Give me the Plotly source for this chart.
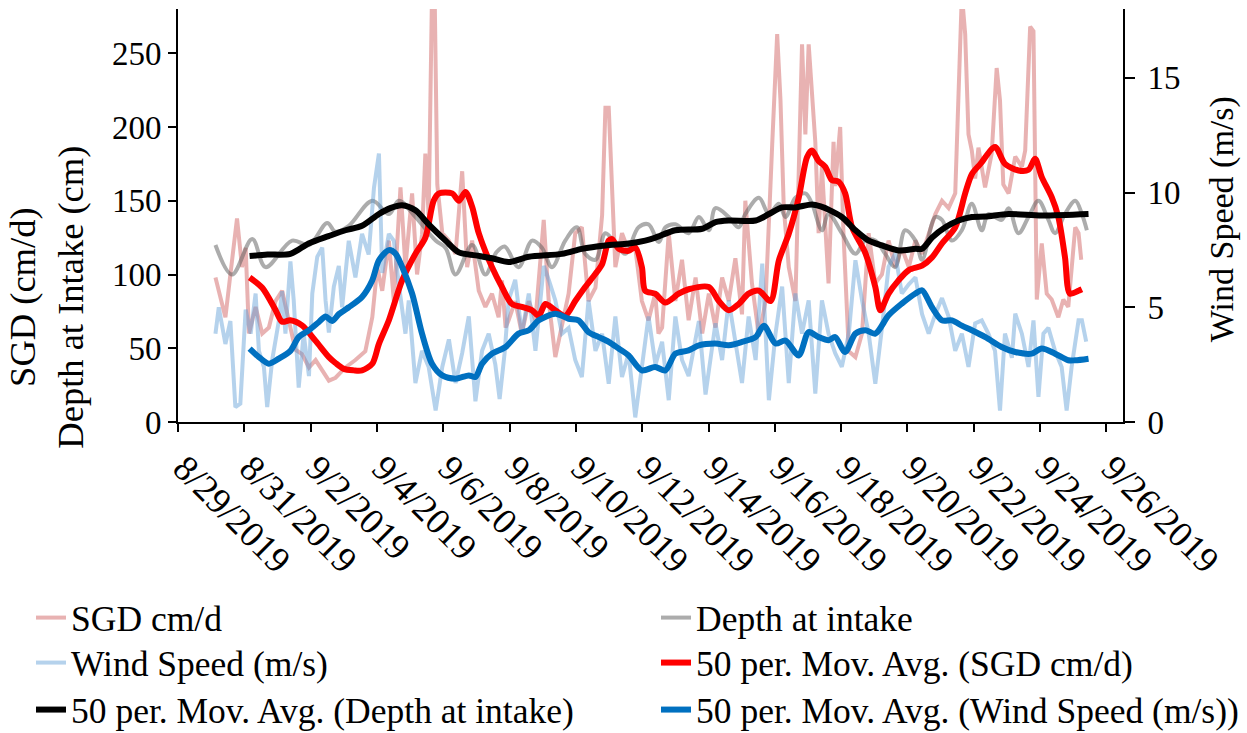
import pandas as pd
import plotly.graph_objects as go

BASE = pd.Timestamp("2019-08-29")

# ---- data (time = days since 8/29/2019 00:00) ----
sgd_t = [1.13, 1.23, 1.43, 1.58, 1.78, 1.93, 2.04, 2.14, 2.34, 2.54, 2.74, 2.94, 3.14, 3.34, 3.54, 3.74, 3.95, 4.15, 4.35, 4.55,
         4.75, 5.05, 5.35, 5.65, 5.86, 6.01, 6.16, 6.36, 6.51, 6.71, 6.86, 7.06, 7.21, 7.36, 7.46, 7.56, 7.66, 7.74, 7.82, 7.97,
         8.17, 8.37, 8.57, 8.72, 8.87, 9.07, 9.27, 9.47, 9.67, 9.77, 9.88, 9.97, 10.17, 10.37, 10.58, 10.78, 11.03, 11.18, 11.38, 11.58,
         11.78, 11.98, 12.18, 12.38, 12.59, 12.79, 12.89, 12.99, 13.09, 13.19, 13.39, 13.59, 13.79, 13.99, 14.19, 14.39, 14.49, 14.6, 14.8, 15.0,
         15.2, 15.4, 15.61, 15.81, 16.01, 16.21, 16.41, 16.61, 16.81, 17.01, 17.11, 17.31, 17.52, 17.72, 17.92, 18.07, 18.17, 18.27, 18.42, 18.62,
         18.82, 18.92, 19.02, 19.12, 19.22, 19.32, 19.42, 19.62, 19.77, 19.82, 19.97, 20.07, 20.23, 20.43, 20.63, 20.83, 21.03, 21.23, 21.43, 21.63,
         21.83, 22.04, 22.24, 22.44, 22.64, 22.84, 23.04, 23.24, 23.44, 23.64, 23.74, 23.84, 23.94, 24.04, 24.14, 24.34, 24.54, 24.69, 24.79, 24.89,
         25.05, 25.25, 25.45, 25.55, 25.7, 25.8, 25.9, 26.05, 26.2, 26.35, 26.55, 26.7, 26.85, 27.06, 27.16, 27.24]
sgd = [98, 89, 71, 100, 138, 105, 118, 60, 78, 60, 64, 82, 89, 69, 49, 46, 37, 42, 35, 28,
       30, 37, 42, 48, 71, 105, 89, 123, 82, 159, 105, 155, 100, 127, 182, 140, 290, 290, 161, 128,
       123, 114, 170, 105, 123, 89, 78, 87, 71, 96, 64, 69, 82, 60, 82, 69, 137, 82, 44, 64,
       87, 128, 132, 82, 91, 140, 213, 213, 150, 105, 128, 116, 118, 82, 69, 87, 60, 64, 128, 82,
       110, 69, 98, 60, 87, 64, 98, 82, 111, 73, 150, 94, 58, 82, 188, 263, 218, 145, 105, 82,
       256, 195, 256, 218, 190, 128, 173, 94, 190, 160, 200, 128, 48, 44, 60, 128, 94, 100, 123, 105,
       118, 105, 123, 114, 128, 141, 150, 145, 155, 290, 263, 195, 184, 165, 186, 159, 182, 240, 218, 161,
       155, 180, 173, 184, 268, 265, 83, 121, 87, 83, 71, 83, 78, 132, 128, 110]

depth_t = [1.13, 1.63, 2.24, 2.64, 3.44, 3.95, 4.50, 4.75, 5.15, 5.86, 6.36, 6.66, 7.16, 7.77, 8.07, 8.37, 8.87, 9.27, 9.6, 9.85,
           10.27, 10.68, 10.98, 11.28, 11.68, 12.03, 12.28, 12.59, 12.89, 13.19, 13.49, 13.89, 14.19, 14.5, 14.7, 15.0, 15.4, 15.71, 16.01, 16.21,
           16.61, 16.91, 17.11, 17.52, 17.82, 18.12, 18.32, 18.62, 18.92, 19.12, 19.42, 19.62, 20.02, 20.43, 20.73, 21.03, 21.33, 21.63, 21.93, 22.24,
           22.44, 22.84, 23.04, 23.34, 23.64, 23.94, 24.24, 24.44, 24.84, 25.05, 25.35, 25.65, 25.95, 26.25, 26.45, 26.75, 27.06, 27.26, 27.41]
depth = [120, 100, 124, 105, 123, 120, 135, 129, 133, 150, 141, 150, 139, 123, 118, 100, 120, 100, 115, 119,
         105, 123, 118, 105, 123, 132, 114, 110, 128, 121, 114, 132, 134, 122, 132, 134, 128, 139, 130, 145,
         139, 132, 141, 152, 141, 148, 139, 152, 155, 148, 130, 141, 128, 114, 123, 123, 114, 105, 130, 123,
         110, 139, 137, 123, 130, 148, 130, 141, 137, 145, 128, 139, 150, 137, 128, 141, 150, 141, 130]

wind_t = [1.13, 1.23, 1.43, 1.58, 1.73, 1.88, 2.04, 2.19, 2.34, 2.44, 2.59, 2.69, 2.84, 3.04, 3.14, 3.24, 3.39, 3.49, 3.64, 3.79,
          3.95, 4.05, 4.2, 4.35, 4.45, 4.55, 4.7, 4.85, 4.95, 5.15, 5.35, 5.55, 5.75, 5.91, 6.06, 6.16, 6.36, 6.51, 6.66, 6.86,
          6.96, 7.16, 7.36, 7.56, 7.77, 7.97, 8.17, 8.37, 8.57, 8.77, 8.97, 9.17, 9.37, 9.57, 9.7, 9.85, 9.97, 10.17, 10.37, 10.58,
          10.78, 11.03, 11.18, 11.38, 11.58, 11.78, 11.98, 12.18, 12.38, 12.59, 12.79, 12.99, 13.19, 13.39, 13.59, 13.79, 13.99, 14.19, 14.4, 14.6,
          14.8, 15.0, 15.2, 15.4, 15.71, 15.91, 16.21, 16.41, 16.61, 16.81, 17.01, 17.21, 17.42, 17.62, 17.82, 18.02, 18.22, 18.42, 18.62, 18.82,
          19.02, 19.22, 19.42, 19.62, 19.82, 20.02, 20.23, 20.43, 20.63, 20.83, 21.03, 21.23, 21.43, 21.63, 21.83, 22.04, 22.24, 22.44, 22.64, 22.84,
          23.04, 23.24, 23.44, 23.64, 23.84, 24.04, 24.24, 24.44, 24.64, 24.79, 24.94, 25.15, 25.25, 25.45, 25.65, 25.8, 25.95, 26.1, 26.25, 26.45,
          26.65, 26.8, 26.95, 27.16, 27.26, 27.39]
wind = [3.85, 5.0, 3.4, 4.4, 0.65, 0.8, 4.9, 3.85, 5.6, 3.1, 2.4, 0.65, 2.7, 4.4, 5.7, 3.85, 7.0, 5.3, 1.5, 3.85,
        2.0, 5.6, 7.2, 7.6, 5.3, 3.9, 5.9, 6.8, 5.0, 7.9, 6.3, 8.2, 7.3, 10.2, 11.7, 6.5, 8.2, 7.9, 6.0, 3.85,
        5.3, 1.7, 3.1, 2.4, 0.5, 2.4, 3.6, 1.7, 3.0, 4.6, 0.9, 3.1, 3.85, 2.5, 1.0, 3.0, 5.3, 6.2, 3.85, 5.6,
        3.1, 6.8, 6.2, 5.3, 3.85, 4.1, 2.7, 1.96, 5.3, 3.1, 3.85, 1.67, 4.6, 1.96, 3.0, 0.2, 2.4, 4.6, 2.5, 3.5,
        0.95, 4.6, 2.7, 2.0, 4.4, 1.2, 4.3, 2.7, 5.3, 3.5, 1.7, 4.6, 2.7, 6.9, 0.95, 3.85, 5.9, 1.7, 5.6, 3.85,
        5.3, 1.24, 5.3, 3.85, 3.0, 2.4, 3.85, 7.05, 5.3, 3.85, 1.67, 4.1, 6.76, 7.34, 5.6, 6.0, 6.3, 4.7, 3.85, 4.7,
        5.4, 4.6, 3.1, 3.85, 2.4, 4.3, 4.43, 3.85, 3.1, 0.5, 3.85, 2.8, 4.72, 3.85, 2.4, 4.43, 1.1, 3.85, 4.1, 3.1,
        2.4, 0.5, 2.4, 4.43, 4.43, 3.5]

sgd_ma_t = [2.16, 2.54, 2.94, 3.14, 3.39, 3.74, 4.15, 4.55, 4.75, 5.0, 5.3, 5.55, 5.86, 6.06, 6.36, 6.76, 7.16, 7.46, 7.71, 7.87,
            8.27, 8.47, 8.67, 8.87, 9.07, 9.47, 9.77, 10.07, 10.37, 10.68, 10.88, 11.08, 11.38, 11.68, 11.98, 12.28, 12.59, 12.79, 12.99, 13.09,
            13.29, 13.59, 13.79, 13.99, 14.09, 14.39, 14.7, 15.1, 15.4, 16.01, 16.31, 16.61, 16.91, 17.21, 17.52, 17.87, 18.12, 18.42, 18.72, 18.97,
            19.12, 19.32, 19.52, 19.72, 19.92, 20.12, 20.33, 20.73, 21.03, 21.18, 21.43, 21.73, 22.04, 22.44, 22.74, 23.04, 23.44, 23.74, 23.94, 24.2,
            24.64, 24.94, 25.35, 25.65, 25.85, 26.05, 26.35, 26.55, 26.75, 26.9, 27.16, 27.26]
sgd_ma = [98, 91, 76, 68, 69, 65.5, 55, 44, 40, 36, 35, 35, 39.5, 53, 69, 96, 114, 125, 150, 155,
          155, 150, 156, 146, 128, 105, 91.5, 80, 78, 75.7, 72, 80, 75.7, 72, 82, 91.5, 100.5, 107, 123, 124,
          117.4, 116, 118.5, 105, 89, 87, 81, 87, 90, 91.5, 82, 75.7, 80, 87, 89, 82, 109.5, 127.6, 152, 179.5,
          184, 177, 173, 164, 163, 155, 132, 114.5, 91.5, 75.7, 87, 96, 103, 106, 111.6, 121, 132, 155, 168, 175,
          186.4, 175, 170.5, 171, 178.4, 166, 152.4, 139, 111.8, 87, 89, 90]

depth_ma_t = [2.16, 2.7, 3.39, 3.94, 4.54, 5.05, 5.55, 6.06, 6.4, 6.76, 7.16, 7.56, 8.07, 8.47, 8.97, 9.47, 9.97, 10.58, 11.58, 12.18,
              12.89, 13.59, 14.09, 14.4, 15.0, 15.81, 16.21, 16.61, 17.42, 17.82, 18.22, 18.62, 19.12, 19.4, 19.62, 20.02, 20.43, 20.83, 21.23, 21.73,
              22.24, 22.44, 22.74, 23.14, 23.54, 23.94, 24.35, 25.05, 26.05, 27.46]
depth_ma = [112.5, 113.5, 114, 121, 126, 130, 133, 141, 145, 147, 143.5, 134, 123, 115, 113, 111, 108.5, 112, 114, 117.4,
            119.7, 121, 123, 125, 130, 131, 135.5, 136.6, 136.6, 141, 145.5, 145.5, 147.5, 146, 144, 139, 130, 123, 119.7, 116.3,
            117.4, 117.4, 125, 132, 136.6, 139, 139.3, 141, 140, 141]

wind_ma_t = [2.16, 2.44, 2.74, 3.04, 3.39, 3.64, 3.95, 4.25, 4.45, 4.65, 4.85, 5.05, 5.15, 5.55, 5.86, 6.06, 6.36, 6.56, 6.76, 7.06,
             7.36, 7.66, 7.97, 8.37, 8.77, 8.97, 9.17, 9.47, 9.88, 10.27, 10.58, 10.88, 11.38, 11.78, 12.08, 12.38, 12.69, 12.99, 13.29, 13.59,
             13.99, 14.39, 14.7, 15.0, 15.4, 15.71, 16.21, 16.61, 17.01, 17.42, 17.67, 18.02, 18.32, 18.72, 19.02, 19.32, 19.62, 19.82, 20.12, 20.43,
             20.73, 21.03, 21.43, 21.83, 22.24, 22.44, 22.74, 23.04, 23.34, 23.64, 23.94, 24.35, 24.84, 25.25, 25.75, 26.05, 26.45, 26.85, 27.06, 27.46]
wind_ma = [3.2, 2.83, 2.54, 2.76, 3.1, 3.7, 4.0, 4.36, 4.6, 4.4, 4.7, 4.9, 5.0, 5.45, 6.18, 7.05, 7.49, 7.34, 6.76, 5.6,
           3.85, 2.54, 2.03, 1.89, 2.03, 1.96, 2.54, 2.98, 3.27, 3.85, 4.0, 4.43, 4.72, 4.5, 4.43, 3.92, 3.7, 3.49, 3.2, 2.9,
           2.25, 2.4, 2.25, 2.98, 3.12, 3.34, 3.42, 3.35, 3.49, 3.7, 4.2, 3.42, 3.55, 2.9, 3.92, 3.7, 3.56, 3.7, 3.05, 3.85,
           4.0, 3.85, 4.65, 5.16, 5.6, 5.74, 5.0, 4.43, 4.43, 4.2, 4.0, 3.7, 3.27, 3.05, 2.98, 3.2, 2.98, 2.69, 2.69, 2.76]

left_ticks = [0, 50, 100, 150, 200, 250]
right_ticks = [0, 5, 10, 15]


def dates(days):
    return [(BASE + pd.Timedelta(minutes=round(d * 1440))).strftime("%Y-%m-%d %H:%M") for d in days]


W, H = 1247, 733
L, R, T, B = 177.5, 1122.8, 9.3, 421.7  # plot area in px


def px(xp, yp):
    return (xp - L) / (R - L), (B - yp) / (B - T)


FONT = "Liberation Serif, Times New Roman, serif"
RAW_W, MA_W = 4, 6

fig = go.Figure()
fig.add_trace(go.Scatter(x=dates(sgd_t), y=sgd, name="SGD cm/d", mode="lines",
                         line=dict(color="rgba(205,85,85,0.45)", width=RAW_W), legend="legend", yaxis="y"))
fig.add_trace(go.Scatter(x=dates(depth_t), y=depth, name="Depth at intake", mode="lines",
                         line=dict(color="rgba(90,90,90,0.5)", width=RAW_W, shape="spline"), legend="legend4", yaxis="y"))
fig.add_trace(go.Scatter(x=dates(wind_t), y=wind, name="Wind Speed (m/s)", mode="lines",
                         line=dict(color="rgba(91,155,213,0.45)", width=RAW_W), legend="legend2", yaxis="y2"))
fig.add_trace(go.Scatter(x=dates(sgd_ma_t), y=sgd_ma, name="50 per. Mov. Avg. (SGD cm/d)", mode="lines",
                         line=dict(color="#FF0000", width=MA_W, shape="spline", smoothing=0.8), legend="legend5", yaxis="y3"))
fig.add_trace(go.Scatter(x=dates(depth_ma_t), y=depth_ma, name="50 per. Mov. Avg. (Depth at intake)", mode="lines",
                         line=dict(color="#000000", width=MA_W, shape="spline", smoothing=0.8), legend="legend3", yaxis="y3"))
fig.add_trace(go.Scatter(x=dates(wind_ma_t), y=wind_ma, name="50 per. Mov. Avg. (Wind Speed (m/s))", mode="lines",
                         line=dict(color="#0070C0", width=MA_W, shape="spline", smoothing=0.8), legend="legend6", yaxis="y4"))

tickfont = dict(family=FONT, size=33, color="black")


def leg(xp, yp):
    return dict(xref="container", yref="container", x=xp / W, y=1 - yp / H, xanchor="left", yanchor="top",
                orientation="v", font=dict(family=FONT, size=35.5, color="black"), bgcolor="rgba(0,0,0,0)",
                itemwidth=30)


COL1, COL2 = 31, 656
ROWS = [588, 633, 680]

fig.update_layout(
    width=W, height=H,
    margin=dict(l=L, r=W - R, t=T, b=H - B, pad=0, autoexpand=False),
    paper_bgcolor="white", plot_bgcolor="white",
    font=dict(family=FONT, color="black"),
    xaxis=dict(type="date", range=["2019-08-29 00:00", "2019-09-26 12:00"],
               tick0="2019-08-29", dtick=2 * 86400000, tickformat="%-m/%-d/%Y", tickangle=45,
               showgrid=False, zeroline=False, showline=True, linecolor="black", linewidth=2,
               ticks="outside", tickcolor="black", tickwidth=2, ticklen=8,
               tickfont=dict(family=FONT, size=36.5, color="black"), automargin=False,
               ticklabelshift=6),
    yaxis=dict(range=[0, 280], tickvals=left_ticks, showgrid=False, zeroline=False, showline=True,
               linecolor="black", linewidth=2, ticks="outside", tickcolor="black", tickwidth=2, ticklen=8,
               tickfont=tickfont, automargin=False),
    yaxis2=dict(range=[0, 18], tickvals=right_ticks, overlaying="y", side="right", showgrid=False, zeroline=False,
                showline=True, linecolor="black", linewidth=2, ticks="outside", tickcolor="black", tickwidth=2,
                ticklen=10, tickfont=tickfont, automargin=False, ticklabelstandoff=6),
    yaxis3=dict(range=[0, 280], overlaying="y", visible=False, showgrid=False, zeroline=False),
    yaxis4=dict(range=[0, 18], overlaying="y", visible=False, showgrid=False, zeroline=False),
    legend=leg(COL1, ROWS[0]),
    legend2=leg(COL1, ROWS[1]),
    legend3=leg(COL1, ROWS[2]),
    legend4=leg(COL2, ROWS[0]),
    legend5=leg(COL2, ROWS[1]),
    legend6=leg(COL2, ROWS[2]),
    showlegend=True,
)

ax, ay = px(46, 297)
fig.add_annotation(x=ax, y=ay, xref="paper", yref="paper", text="SGD (cm/d)<br>Depth at Intake (cm)",
                   textangle=-90, showarrow=False, font=dict(family=FONT, size=36.5, color="black"),
                   xanchor="center", yanchor="middle")
bx, by = px(1222, 219)
fig.add_annotation(x=bx, y=by, xref="paper", yref="paper", text="Wind Speed (m/s)",
                   textangle=-90, showarrow=False, font=dict(family=FONT, size=34, color="black"),
                   xanchor="center", yanchor="middle")

fig.write_html("out.html")
